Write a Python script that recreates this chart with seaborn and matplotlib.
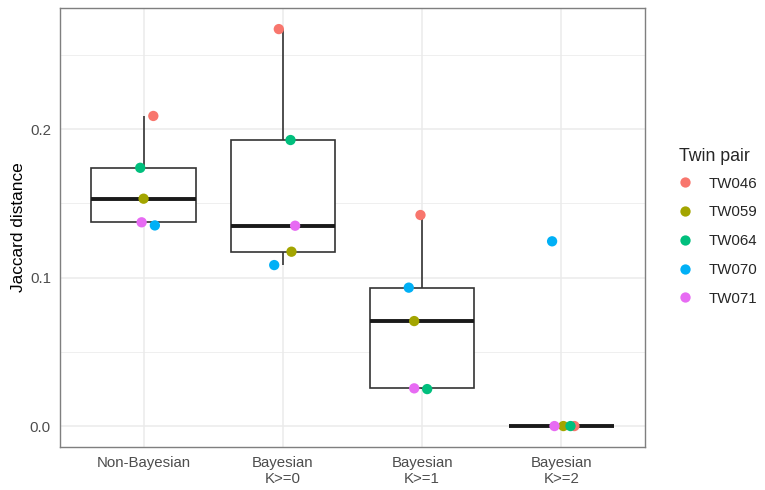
import numpy as np
import pandas as pd
import matplotlib
matplotlib.use("Agg")
import matplotlib.pyplot as plt
import seaborn as sns
from matplotlib.ticker import MultipleLocator

sns.set_theme(style="white")
plt.rcParams['font.family'] = ['Liberation Sans', 'DejaVu Sans']

methods = ["Non-Bayesian", "Bayesian\nK>=0", "Bayesian\nK>=1", "Bayesian\nK>=2"]
pairs = ["TW046", "TW059", "TW064", "TW070", "TW071"]
colors = ["#F8766D", "#A3A500", "#00BF7D", "#00B0F6", "#E76BF3"]

# Jaccard distance per method, in pair order TW046, TW059, TW064, TW070, TW071
nonbayes = [0.2088, 0.1531, 0.1739, 0.1351, 0.1372]
bayes_k0 = [0.2673, 0.1174, 0.1926, 0.1084, 0.1349]
bayes_k1 = [0.1421, 0.0707, 0.0249, 0.0932, 0.0254]
bayes_k2 = [0.0, 0.0, 0.0, 0.1244, 0.0]

# horizontal jitter (category units)
jit_nonbayes = [0.070, 0.000, -0.024, 0.081, -0.014]
jit_k0 = [-0.029, 0.062, 0.055, -0.062, 0.088]
jit_k1 = [-0.012, -0.057, 0.036, -0.096, -0.057]
jit_k2 = [0.093, 0.014, 0.065, -0.067, -0.050]

vals = [nonbayes, bayes_k0, bayes_k1, bayes_k2]
jits = [jit_nonbayes, jit_k0, jit_k1, jit_k2]
rows = []
for i, m in enumerate(methods):
    for p, v, j in zip(pairs, vals[i], jits[i]):
        rows.append({"method": m, "idx": i, "pair": p, "dist": v, "xj": i + j})
df = pd.DataFrame(rows)

fig = plt.figure(figsize=(7.65, 4.9), dpi=100)
ax = fig.add_axes([60/765, 1 - 447/490, (645-60)/765, (447-8)/490])

lc = "#333333"
sns.boxplot(data=df, x="method", y="dist", order=methods, ax=ax, width=0.75,
            color="white", linecolor=lc, linewidth=1.2, showfliers=False,
            showcaps=False, whis=1.5,
            boxprops=dict(facecolor="white", edgecolor=lc),
            medianprops=dict(color="#1a1a1a", linewidth=2.8))

sns.scatterplot(data=df, x="xj", y="dist", hue="pair", hue_order=pairs,
                palette=colors, s=55, edgecolor="none", ax=ax, zorder=5)

ax.set_xlim(-0.6, 3.6)
ax.set_ylim(-0.0141, 0.2815)
ax.set_xticks(range(len(methods)))
ax.set_xticklabels(methods)
ax.set_yticks([0.0, 0.1, 0.2])
ax.set_yticklabels(["0.0", "0.1", "0.2"])
ax.yaxis.set_minor_locator(MultipleLocator(0.05))
ax.set_axisbelow(True)
ax.grid(True, which="major", axis="both", color="#EBEBEB", linewidth=1.1)
ax.grid(True, which="minor", axis="y", color="#EBEBEB", linewidth=0.55)
ax.xaxis.grid(True, which="major", color="#EBEBEB", linewidth=1.1)

ax.set_xlabel("")
ax.set_ylabel("Jaccard distance", fontsize=12.4, color="black", labelpad=3)
ax.tick_params(axis="both", which="major", length=3.5, width=0.8, color="#333333",
               labelsize=10.8, labelcolor="#4D4D4D", pad=3)
ax.tick_params(axis="y", which="minor", length=0)
for sp in ax.spines.values():
    sp.set_visible(True)
    sp.set_color("#7F7F7F")
    sp.set_linewidth(1.0)

leg = ax.legend(title="Twin pair", loc="upper left", bbox_to_anchor=(1.0487, 0.6946),
                frameon=False, fontsize=10.8, title_fontsize=12.8, markerscale=1.0,
                labelspacing=0.98, handletextpad=1.13, handlelength=0.8, borderaxespad=0)
leg._legend_box.align = "left"
leg._legend_box.sep = 8.4

fig.savefig("out.png", dpi=100)
